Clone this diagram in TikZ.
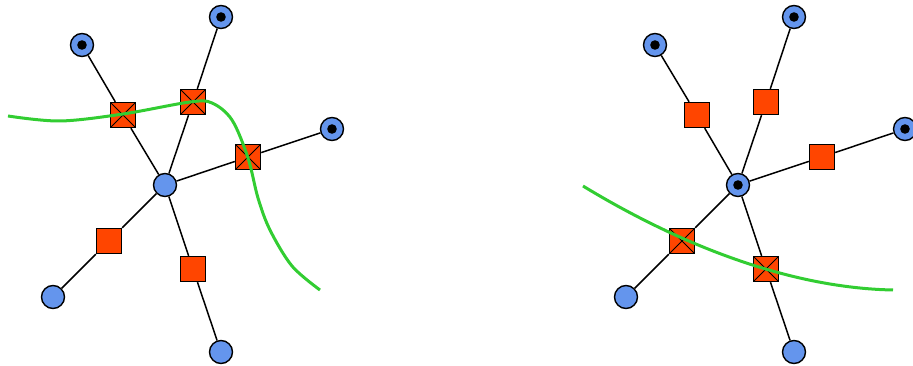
\documentclass[tikz,border=0pt]{standalone}
\usetikzlibrary{positioning}
\definecolor{nodeblue}{HTML}{6495ED}
\definecolor{cutred}{HTML}{FF4500}
\definecolor{cutgreen}{HTML}{32CD32}
\begin{document}
\begin{tikzpicture}[x=1pt,y=-1pt,
  vert/.style={circle, draw, line width=1.4pt, fill=nodeblue, minimum size=23pt, inner sep=0pt},
  term/.style={vert, path picture={\fill[black] (path picture bounding box.center) circle (4.8pt);}},
  edgebox/.style={rectangle, draw, line width=1.4pt, fill=cutred, minimum size=25pt, inner sep=0pt},
  cutbox/.style={edgebox, path picture={\draw[black, line width=1pt] (path picture bounding box.north west) -- (path picture bounding box.south east) (path picture bounding box.north east) -- (path picture bounding box.south west);}},
  link/.style={line width=1.5pt},
  cut/.style={cutgreen, line width=3pt}]
  \useasboundingbox (0,0) rectangle (913,366);
  % left graph
  \node[vert](lc) at (165,185){};
  \node[term](la) at (82,45){};
  \node[term](lb) at (221,17){};
  \node[term](ld) at (332,129){};
  \node[vert](le) at (53,297){};
  \node[vert](lf) at (221,352){};
  \node[cutbox](lsa) at (123,115){};
  \node[cutbox](lsb) at (193,102){};
  \node[cutbox](lsd) at (248,157){};
  \node[edgebox](lse) at (109,241){};
  \node[edgebox](lsf) at (193,269){};
  \draw[link](lc)--(lsa)--(la); \draw[link](lc)--(lsb)--(lb); \draw[link](lc)--(lsd)--(ld);
  \draw[link](lc)--(lse)--(le); \draw[link](lc)--(lsf)--(lf);
  \draw[cut] plot[smooth, tension=0.55] coordinates {(8,116) (60,121) (123,114) (190,102) (212,103) (232,120) (248,158) (258,198) (270,230) (292,266) (320,290)};
  % right graph
  \node[term](rc) at (738,185){};
  \node[term](ra) at (655,45){};
  \node[term](rb) at (794,17){};
  \node[term](rd) at (905,129){};
  \node[vert](re) at (626,297){};
  \node[vert](rf) at (794,352){};
  \node[edgebox](rsa) at (697,115){};
  \node[edgebox](rsb) at (766,102){};
  \node[edgebox](rsd) at (822,157){};
  \node[cutbox](rse) at (682,241){};
  \node[cutbox](rsf) at (766,269){};
  \draw[link](rc)--(rsa)--(ra); \draw[link](rc)--(rsb)--(rb); \draw[link](rc)--(rsd)--(rd);
  \draw[link](rc)--(rse)--(re); \draw[link](rc)--(rsf)--(rf);
  \draw[cut](583,186) .. controls (680,245) and (790,288) .. (893,290);
\end{tikzpicture}
\end{document}
